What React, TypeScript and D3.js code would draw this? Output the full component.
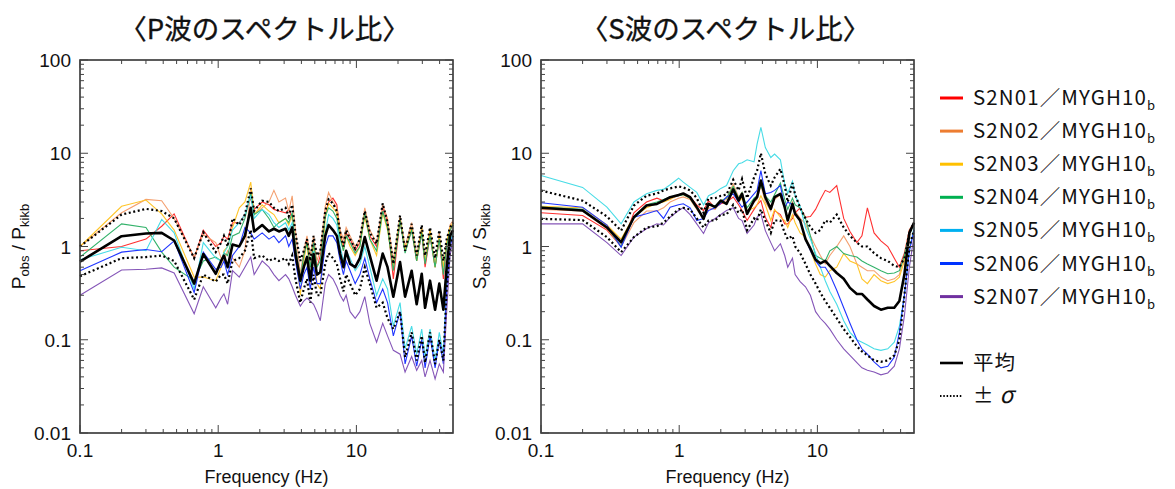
import React from "react";
import * as d3 from "d3";

// station ratio labels and colours (legend uses the office palette, the
// plotted lines are a little lighter in the original)
const STATIONS = ["S2N01", "S2N02", "S2N03", "S2N04", "S2N05", "S2N06", "S2N07"];
const LEGEND_COLOR = ["#ff0000", "#ed7d31", "#ffc000", "#00b050", "#00b0f0", "#0033ff", "#7030a0"];
const LINE_COLOR = ["#ff3030", "#f4a070", "#ffc52a", "#33b26a", "#48dce6", "#2036ff", "#8556b8"];

const X_TICKS = [0.1, 1, 10];
const X_TICK_LABELS = ["0.1", "1", "10"];
const Y_TICKS = [0.01, 0.1, 1, 10, 100];
const Y_TICK_LABELS = ["0.01", "0.1", "1", "10", "100"];

// ---- P wave spectral ratio ----
const P_FREQ = [
  0.1, 0.2, 0.3, 0.39, 0.48, 0.67, 0.78, 0.96, 1.05, 1.1,
  1.17, 1.27, 1.42, 1.56, 1.72, 1.82, 2.08, 2.33, 2.53, 2.75,
  3.07, 3.24, 3.43, 3.62, 3.93, 4.16, 4.39, 4.64, 4.9, 5.18,
  5.48, 5.95, 6.29, 6.76, 7.22, 7.63, 8.06, 8.43, 9.0, 9.8,
  10.6, 11.5, 12.5, 14.0, 15.5, 16.8, 18.5, 20.7, 22.5, 25.1,
  27.3, 29.7, 31.4, 34.1, 37.1, 39.8, 42.6, 45, 47.6, 50,
];
const P_N01 = [
  0.9, 1.0, 1.2, 1.65, 2.24, 0.75, 1.5, 1.0, 1.1, 1.3,
  1.2, 1.8, 1.8, 2.2, 3.3, 2.5, 3.0, 2.8, 2.5, 2.4,
  2.3, 2.5, 2.0, 1.0, 0.45, 0.8, 1.2, 0.6, 1.1, 0.6,
  0.8, 2.2, 3.0, 3.3, 2.8, 1.4, 1.0, 1.4, 1.2, 0.9,
  1.1, 2.2, 1.3, 1.0, 2.7, 1.8, 0.45, 1.9, 0.9, 1.5,
  0.7, 1.4, 0.6, 1.3, 0.6, 1.2, 0.45, 1.0, 1.5, 1.7,
];
const P_N02 = [
  1.0, 2.3, 3.2, 3.1, 2.0, 0.77, 1.35, 1.1, 0.75, 0.7,
  0.9, 0.75, 0.6, 0.9, 4.3, 2.2, 2.6, 3.0, 4.0, 3.0,
  3.3, 2.4, 3.5, 1.5, 0.5, 0.9, 1.3, 0.8, 1.3, 0.7,
  0.9, 2.7, 3.8, 3.0, 2.6, 1.5, 1.2, 1.6, 1.3, 1.0,
  1.2, 2.6, 1.5, 1.1, 2.8, 2.0, 0.7, 2.1, 1.0, 1.8,
  0.8, 1.6, 0.7, 1.5, 0.6, 1.4, 0.5, 1.1, 1.7, 1.9,
];
const P_N03 = [
  1.0, 2.7, 3.15, 2.24, 1.5, 0.47, 0.47, 0.43, 0.6, 0.9,
  1.0, 1.6, 2.6, 3.0, 4.9, 2.2, 2.8, 2.4, 2.2, 1.8,
  2.0, 1.7, 2.2, 1.0, 0.3, 0.7, 1.1, 0.4, 1.0, 0.4,
  0.35, 2.0, 2.9, 2.6, 2.3, 1.3, 0.9, 1.3, 1.0, 0.8,
  1.0, 2.1, 1.2, 0.8, 2.3, 1.5, 0.6, 2.0, 0.9, 1.6,
  0.7, 1.6, 0.7, 1.5, 0.6, 1.3, 0.6, 1.1, 1.6, 1.8,
];
const P_N04 = [
  0.77, 1.75, 1.6, 0.87, 0.6, 0.43, 0.7, 0.77, 0.7, 0.85,
  0.8, 1.3, 1.4, 2.0, 3.8, 2.2, 2.5, 2.0, 1.6, 1.8,
  2.0, 1.8, 2.3, 1.0, 0.45, 0.8, 1.1, 0.6, 1.1, 0.6,
  0.7, 2.1, 2.6, 2.4, 2.0, 1.2, 0.9, 1.3, 1.1, 0.85,
  1.0, 2.3, 1.2, 0.9, 2.4, 1.6, 0.55, 1.9, 0.85, 1.5,
  0.7, 1.4, 0.65, 1.3, 0.6, 1.2, 0.5, 1.0, 1.5, 1.7,
];
const P_N05 = [
  0.72, 0.98, 0.9, 1.95, 1.4, 0.35, 1.1, 0.75, 0.7, 0.85,
  1.0, 1.5, 1.8, 2.2, 3.5, 2.0, 2.5, 2.2, 1.8, 1.6,
  1.8, 1.5, 1.8, 0.9, 0.4, 0.6, 0.8, 0.45, 0.9, 0.5,
  0.55, 1.4, 2.2, 2.0, 1.7, 1.0, 0.7, 0.9, 0.75, 0.55,
  0.65, 1.0, 0.6, 0.3, 0.45, 0.35, 0.14, 0.25, 0.08, 0.14,
  0.07, 0.13, 0.065, 0.13, 0.06, 0.12, 0.07, 0.4, 1.1, 1.4,
];
const P_N06 = [
  0.55, 0.87, 0.93, 0.88, 1.15, 0.32, 0.87, 0.57, 0.6, 0.7,
  0.5, 0.8, 1.0, 1.6, 1.4, 1.2, 1.4, 1.2, 1.3, 1.1,
  1.3, 1.0, 1.2, 0.7, 0.35, 0.5, 0.6, 0.35, 0.6, 0.4,
  0.4, 1.0, 1.3, 1.3, 1.1, 0.7, 0.5, 0.7, 0.55, 0.4,
  0.5, 0.75, 0.45, 0.25, 0.35, 0.25, 0.11, 0.2, 0.055, 0.11,
  0.052, 0.1, 0.05, 0.11, 0.05, 0.1, 0.055, 0.35, 1.0, 1.3,
];
const P_N07 = [
  0.3, 0.56, 0.57, 0.59, 0.52, 0.19, 0.37, 0.22, 0.28, 0.31,
  0.24, 0.55, 0.47, 0.6, 0.77, 0.5, 0.7, 0.6, 0.5, 0.43,
  0.5, 0.45, 0.37, 0.3, 0.23, 0.26, 0.28, 0.26, 0.24, 0.2,
  0.16, 0.4, 0.5, 0.45, 0.37, 0.3, 0.26, 0.3, 0.2, 0.17,
  0.2, 0.29, 0.15, 0.094, 0.15, 0.11, 0.077, 0.07, 0.045, 0.066,
  0.047, 0.06, 0.04, 0.06, 0.038, 0.055, 0.045, 0.2, 0.8, 1.2,
];
const P_MEAN = [
  0.69, 1.29, 1.38, 1.4, 1.16, 0.4, 0.83, 0.51, 0.7, 0.8,
  0.6, 1.05, 1.0, 1.3, 2.6, 1.45, 1.7, 1.45, 1.55, 1.45,
  1.55, 1.3, 1.6, 0.83, 0.43, 0.6, 0.77, 0.43, 0.83, 0.5,
  0.53, 1.3, 1.7, 1.5, 1.3, 0.83, 0.6, 0.9, 0.65, 0.6,
  0.75, 1.26, 0.8, 0.43, 0.84, 0.6, 0.29, 0.68, 0.29, 0.55,
  0.24, 0.51, 0.22, 0.43, 0.21, 0.4, 0.21, 0.6, 1.3, 1.5,
];
const P_PLUS = [
  1.0, 2.2, 2.53, 2.4, 2.0, 0.75, 1.42, 0.87, 1.1, 1.3,
  1.0, 2.0, 1.7, 2.2, 4.2, 2.4, 3.1, 3.0, 2.6, 2.4,
  2.6, 2.1, 2.8, 1.4, 0.7, 0.9, 1.2, 0.7, 1.3, 0.8,
  0.9, 2.4, 3.2, 2.9, 2.4, 1.4, 1.0, 1.5, 1.2, 0.95,
  1.2, 2.4, 1.4, 1.07, 2.9, 1.8, 0.65, 2.15, 0.9, 1.75,
  0.8, 1.7, 0.8, 1.6, 0.75, 1.5, 0.7, 1.2, 1.6, 1.8,
];
const P_MINUS = [
  0.48, 0.75, 0.77, 0.8, 0.7, 0.27, 0.5, 0.42, 0.5, 0.5,
  0.4, 0.7, 0.75, 0.9, 1.5, 0.75, 0.8, 0.7, 0.75, 0.7,
  0.75, 0.65, 0.8, 0.45, 0.25, 0.35, 0.45, 0.25, 0.5, 0.3,
  0.3, 0.65, 0.85, 0.75, 0.65, 0.45, 0.33, 0.5, 0.4, 0.3,
  0.35, 0.6, 0.4, 0.22, 0.25, 0.17, 0.13, 0.2, 0.065, 0.12,
  0.06, 0.11, 0.057, 0.12, 0.055, 0.1, 0.06, 0.35, 1.0, 1.3,
];

// ---- S wave spectral ratio ----
const S_FREQ = [
  0.1, 0.2, 0.3, 0.38, 0.47, 0.58, 0.69, 0.77, 0.86, 0.99,
  1.07, 1.2, 1.34, 1.5, 1.63, 1.82, 2.0, 2.2, 2.46, 2.69,
  2.85, 3.1, 3.48, 3.66, 3.9, 4.2, 4.6, 4.9, 5.4, 5.8,
  6.1, 6.6, 6.9, 7.5, 8.2, 8.9, 9.7, 10.5, 11.4, 12.3,
  13.8, 15.5, 17.2, 19.3, 21.0, 23.0, 25.7, 28.8, 32.3, 36,
  39.2, 42.6, 46.3, 50,
];
const S_N01 = [
  2.3, 2.15, 1.5, 1.0, 2.3, 3.0, 3.3, 3.1, 3.3, 3.5,
  3.67, 3.4, 2.8, 2.43, 3.1, 2.6, 2.87, 3.0, 3.4, 2.8,
  2.43, 1.9, 2.5, 2.8, 3.1, 2.06, 1.6, 2.43, 2.2, 1.75,
  1.75, 2.0, 2.3, 2.6, 2.06, 2.1, 2.5, 3.2, 4.0, 3.8,
  4.5, 2.0, 1.45, 1.1, 1.3, 2.6, 1.4, 1.15, 1.0, 0.75,
  0.6, 0.85, 1.5, 1.8,
];
const S_N02 = [
  2.5, 2.4, 1.55, 1.0, 1.8, 2.4, 2.4, 2.6, 3.0, 3.3,
  3.4, 3.2, 2.5, 2.0, 2.6, 2.5, 3.0, 3.2, 4.7, 3.4,
  3.8, 2.4, 3.0, 3.2, 4.5, 3.0, 2.4, 3.2, 3.6, 2.5,
  2.0, 3.0, 2.4, 2.0, 1.75, 1.3, 1.0, 0.8, 0.65, 0.8,
  1.0, 1.3, 1.0, 0.65, 0.6, 0.55, 0.55, 0.47, 0.43, 0.45,
  0.5, 0.8, 1.5, 1.8,
];
const S_N03 = [
  2.7, 2.6, 1.7, 1.2, 2.1, 2.6, 2.9, 3.0, 3.2, 3.6,
  3.6, 3.3, 2.6, 2.0, 2.8, 2.7, 3.1, 3.3, 4.4, 3.0,
  3.3, 2.4, 2.6, 2.8, 3.5, 2.8, 1.9, 2.5, 2.06, 1.9,
  1.6, 2.2, 1.8, 1.4, 1.26, 0.9, 0.65, 0.5, 0.47, 0.55,
  0.6, 0.84, 0.7, 0.65, 0.45, 0.4, 0.5, 0.43, 0.4, 0.42,
  0.47, 0.7, 1.4, 1.8,
];
const S_N04 = [
  2.65, 2.5, 1.6, 1.0, 2.1, 2.8, 3.0, 3.2, 3.4, 3.5,
  3.6, 3.3, 2.6, 2.0, 2.9, 2.7, 3.1, 3.3, 4.4, 3.3,
  3.8, 2.6, 3.3, 3.5, 4.5, 3.5, 3.0, 3.6, 4.8, 3.2,
  2.5, 3.3, 2.8, 2.6, 2.0, 1.3, 0.8, 0.75, 0.7, 0.9,
  1.0, 0.84, 0.8, 0.77, 0.7, 0.65, 0.6, 0.55, 0.51, 0.52,
  0.55, 0.8, 1.4, 1.8,
];
const S_N05 = [
  5.77, 4.3, 2.64, 1.75, 3.0, 3.67, 4.0, 4.1, 4.6, 5.4,
  4.9, 4.3, 3.8, 2.8, 3.5, 3.8, 4.2, 4.5, 6.5, 7.7,
  7.9, 8.5, 8.1, 12.5, 19, 11.5, 9.0, 9.8, 8.5, 4.7,
  3.7, 5.0, 3.5, 2.7, 1.6, 1.2, 0.84, 0.6, 0.43, 0.33,
  0.24, 0.16, 0.12, 0.1, 0.094, 0.088, 0.08, 0.077, 0.08, 0.094,
  0.14, 0.3, 0.9, 1.6,
];
const S_N06 = [
  2.95, 2.64, 1.7, 0.98, 2.06, 2.24, 2.43, 2.0, 2.64, 2.8,
  2.87, 2.6, 1.9, 2.0, 2.43, 2.6, 2.9, 3.4, 3.67, 3.0,
  2.64, 3.0, 3.67, 4.0, 6.5, 3.67, 3.8, 4.0, 4.5, 2.64,
  3.0, 2.8, 2.2, 1.9, 1.2, 0.9, 0.7, 0.6, 0.6, 0.5,
  0.34, 0.22, 0.15, 0.1, 0.08, 0.07, 0.058, 0.05, 0.052, 0.065,
  0.12, 0.3, 0.9, 1.5,
];
const S_N07 = [
  1.75, 1.75, 1.1, 0.8, 1.26, 1.55, 1.75, 1.7, 2.06, 2.43,
  2.6, 2.2, 1.75, 1.38, 1.8, 2.0, 2.2, 2.43, 2.6, 2.0,
  1.9, 1.38, 1.7, 2.06, 2.24, 1.48, 1.1, 0.9, 1.07, 0.8,
  0.6, 0.75, 0.5, 0.42, 0.37, 0.3, 0.2, 0.17, 0.15, 0.13,
  0.1, 0.08, 0.068, 0.057, 0.05, 0.047, 0.045, 0.042, 0.044, 0.052,
  0.08, 0.18, 0.6, 1.3,
];
const S_MEAN = [
  2.6, 2.43, 1.6, 1.11, 2.06, 2.75, 2.86, 3.1, 3.38, 3.57,
  3.7, 3.38, 2.64, 1.98, 2.86, 2.64, 3.1, 2.86, 4.1, 3.1,
  3.67, 2.24, 3.1, 3.38, 5.1, 3.38, 2.53, 3.38, 3.67, 2.64,
  1.9, 2.86, 2.24, 1.9, 1.2, 0.95, 0.72, 0.66, 0.7, 0.62,
  0.52, 0.45, 0.36, 0.31, 0.31, 0.27, 0.23, 0.21, 0.22, 0.22,
  0.26, 0.5, 1.4, 1.8,
];
const S_PLUS = [
  3.98, 3.1, 2.1, 1.48, 2.75, 3.5, 3.7, 4.0, 4.2, 4.4,
  4.3, 4.0, 3.3, 2.3, 3.3, 3.3, 3.5, 3.6, 5.2, 4.0,
  5.3, 3.3, 5.5, 6.5, 10.0, 6.0, 4.5, 5.5, 6.8, 4.5,
  3.0, 4.8, 3.6, 2.6, 2.0, 1.6, 1.4, 1.5, 1.9, 1.8,
  2.2, 1.6, 1.3, 1.1, 1.0, 1.0, 0.85, 0.75, 0.7, 0.62,
  0.6, 0.75, 1.4, 1.8,
];
const S_MINUS = [
  1.98, 1.92, 1.26, 0.87, 1.26, 1.6, 1.65, 1.8, 2.1, 2.5,
  2.6, 2.5, 2.0, 1.6, 1.9, 1.9, 2.2, 2.2, 2.8, 2.3,
  2.5, 1.5, 2.0, 1.9, 2.5, 1.9, 1.4, 1.9, 1.9, 1.4,
  1.2, 1.3, 1.0, 0.85, 0.65, 0.5, 0.4, 0.32, 0.26, 0.22,
  0.17, 0.13, 0.107, 0.085, 0.075, 0.068, 0.06, 0.058, 0.06, 0.068,
  0.1, 0.3, 1.0, 1.5,
];

const TICK_FONT = "'Liberation Sans', Arial, Helvetica, sans-serif";
const JP_FONT = "'Noto Sans CJK JP', 'Noto Sans', sans-serif";

const TOP = 60, BOTTOM = 433, PW = 373;

function minorTicks(domain: [number, number]) {
  const out: number[] = [];
  for (let d = domain[0]; d < domain[1]; d *= 10) {
    for (let k = 2; k <= 9; k++) {
      const v = +(d * k).toPrecision(3);
      if (v < domain[1]) out.push(v);
    }
  }
  return out;
}

function Panel({ left, title, sym, ylabX, freq, series, mean, plus, minus }) {
  const x = d3.scaleLog().domain([0.1, 50]).range([left, left + PW]);
  const y = d3.scaleLog().domain([0.01, 100]).range([BOTTOM, TOP]);
  const path = (vals: number[]) =>
    d3.line<number>().x((_, i) => x(freq[i])).y((v) => y(v))(vals) || "";
  const xMinor = minorTicks([0.1, 50]);
  const yMinor = minorTicks([0.01, 100]);
  const right = left + PW;
  const cx = left + PW / 2;

  return (
    <g>
      <text x={cx - 2} y={39} textAnchor="middle" fontFamily={JP_FONT} fontSize={27.5} fill="#111"
        stroke="#111" strokeWidth={0.35}>
        {title}
      </text>

      {/* data */}
      <g fill="none">
        {series.map((s, i) => (
          <path key={i} d={path(s)} stroke={LINE_COLOR[i]} strokeWidth={1.1} />
        ))}
        <path d={path(plus)} stroke="#000" strokeWidth={2.2} strokeDasharray="2 2.6" />
        <path d={path(minus)} stroke="#000" strokeWidth={2.2} strokeDasharray="2 2.6" />
        <path d={path(mean)} stroke="#000" strokeWidth={2.6} strokeLinejoin="round" />
      </g>

      {/* frame & ticks */}
      <rect x={left} y={TOP} width={PW} height={BOTTOM - TOP} fill="none" stroke="#333" strokeWidth={1.6} />
      <g stroke="#444" strokeWidth={1}>
        {X_TICKS.map((t) => (
          <g key={"xM" + t}>
            <line x1={x(t)} x2={x(t)} y1={BOTTOM} y2={BOTTOM - 8} />
            <line x1={x(t)} x2={x(t)} y1={TOP} y2={TOP + 8} />
          </g>
        ))}
        {xMinor.map((t) => (
          <g key={"xm" + t}>
            <line x1={x(t)} x2={x(t)} y1={BOTTOM} y2={BOTTOM - 4} />
            <line x1={x(t)} x2={x(t)} y1={TOP} y2={TOP + 4} />
          </g>
        ))}
        {Y_TICKS.map((t) => (
          <g key={"yM" + t}>
            <line x1={left} x2={left + 8} y1={y(t)} y2={y(t)} />
            <line x1={right} x2={right - 8} y1={y(t)} y2={y(t)} />
          </g>
        ))}
        {yMinor.map((t) => (
          <g key={"ym" + t}>
            <line x1={left} x2={left + 4} y1={y(t)} y2={y(t)} />
            <line x1={right} x2={right - 4} y1={y(t)} y2={y(t)} />
          </g>
        ))}
      </g>

      <g fontFamily={TICK_FONT} fontSize={19} fill="#111">
        {X_TICKS.map((t, i) => (
          <text key={t} x={x(t)} y={457} textAnchor="middle">{X_TICK_LABELS[i]}</text>
        ))}
        {Y_TICKS.map((t, i) => (
          <text key={t} x={left - 9} y={y(t) + 7} textAnchor="end">{Y_TICK_LABELS[i]}</text>
        ))}
        <text x={cx} y={483} textAnchor="middle" fontSize={18}>Frequency (Hz)</text>
        <text transform={`translate(${ylabX},${(TOP + BOTTOM) / 2}) rotate(-90)`} textAnchor="middle" fontSize={19}>
          {sym}
          <tspan fontSize={13} dy={4}>obs</tspan>
          <tspan dy={-4}>{" / " + sym}</tspan>
          <tspan fontSize={13} dy={4}>kikb</tspan>
        </text>
      </g>
    </g>
  );
}

function Legend() {
  const x0 = 940, rowY = (i: number) => 98 + i * 33.1;
  return (
    <g fontFamily={JP_FONT} fontSize={20.5} fill="#111">
      {STATIONS.map((s, i) => (
        <g key={s}>
          <line x1={x0} x2={x0 + 23} y1={rowY(i)} y2={rowY(i)} stroke={LEGEND_COLOR[i]} strokeWidth={3} />
          <text x={x0 + 33} y={rowY(i) + 7} letterSpacing={1.1}>
            {s + "／MYGH10"}
            <tspan fontSize={13} dy={5} letterSpacing={0}>b</tspan>
          </text>
        </g>
      ))}
      <line x1={x0} x2={x0 + 23} y1={363} y2={363} stroke="#000" strokeWidth={2.6} />
      <text x={x0 + 33} y={370} letterSpacing={1}>平均</text>
      <line x1={x0} x2={x0 + 23} y1={396} y2={396} stroke="#000" strokeWidth={1.8} strokeDasharray="1.5 1.8" />
      <text x={x0 + 33} y={403}>
        ±<tspan dx={6} fontSize={23} fontStyle="italic">σ</tspan>
      </text>
    </g>
  );
}

export default function App() {
  return (
    <svg width={1175} height={489} style={{ position: "absolute", left: 0, top: 0, background: "#fff" }}>
      <Panel
        left={80}
        title="〈P波のスペクトル比〉"
        sym="P"
        ylabX={25}
        freq={P_FREQ}
        series={[P_N01, P_N02, P_N03, P_N04, P_N05, P_N06, P_N07]}
        mean={P_MEAN}
        plus={P_PLUS}
        minus={P_MINUS}
      />
      <Panel
        left={541}
        title="〈S波のスペクトル比〉"
        sym="S"
        ylabX={486}
        freq={S_FREQ}
        series={[S_N01, S_N02, S_N03, S_N04, S_N05, S_N06, S_N07]}
        mean={S_MEAN}
        plus={S_PLUS}
        minus={S_MINUS}
      />
      <Legend />
    </svg>
  );
}
